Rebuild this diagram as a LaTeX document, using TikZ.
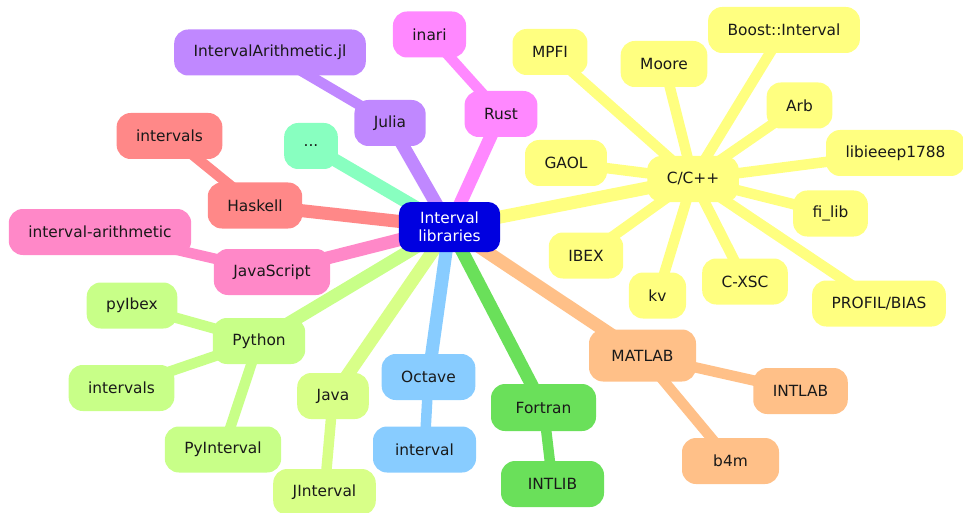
\documentclass[tikz,border=0pt]{standalone}
\usepackage{fontspec}
\setmainfont{DejaVu Sans}
\usepackage{tikz}
\definecolor{HubBlue}{HTML}{0000E0}
\definecolor{CppYellow}{HTML}{FFFF80}
\definecolor{RustPink}{HTML}{FF88FF}
\definecolor{JuliaPurple}{HTML}{C088FF}
\definecolor{MiscMint}{HTML}{88FFC0}
\definecolor{HaskellRed}{HTML}{FF8888}
\definecolor{JsPink}{HTML}{FF88C8}
\definecolor{PythonGreen}{HTML}{C8FF88}
\definecolor{JavaLime}{HTML}{D8FF88}
\definecolor{OctaveBlue}{HTML}{88CCFF}
\definecolor{FortranGreen}{HTML}{6AE05A}
\definecolor{MatlabOrange}{HTML}{FFC088}
\usetikzlibrary{backgrounds}

\begin{document}
\begin{tikzpicture}[
  x=1pt, y=-1pt,
  topic/.style={rectangle, rounded corners=14pt, fill=#1, minimum height=46pt, inner xsep=19.5pt, font=\fontsize{15.4}{18}\selectfont, text=black!90},
  hub/.style={rectangle, rounded corners=12pt, fill=HubBlue, text=white, minimum height=50pt, inner xsep=19.5pt, align=center, font=\fontsize{15.4}{18}\selectfont},
  branch/.style={line width=13pt},
  twig/.style={line width=10.5pt}
]
  \useasboundingbox (0,0) rectangle (963,513);

  % Centre
  \node[hub] (hub) at (449.5,227) {Interval\\libraries};

  % C/C++
  \node[topic=CppYellow] (cpp) at (693,179) {C/C++};
  \node[topic=CppYellow] (mpfi) at (550,52) {MPFI};
  \node[topic=CppYellow] (moore) at (664,64) {Moore};
  \node[topic=CppYellow] (boost) at (784,30) {Boost::Interval};
  \node[topic=CppYellow] (arb) at (799.5,105.5) {Arb};
  \node[topic=CppYellow] (ieee) at (895.5,153) {libieeep1788};
  \node[topic=CppYellow] (gaol) at (566,163) {GAOL};
  \node[topic=CppYellow] (filib) at (830.5,213.5) {fi\_lib};
  \node[topic=CppYellow] (ibex) at (586,255.5) {IBEX};
  \node[topic=CppYellow] (kv) at (657.5,295.5) {kv};
  \node[topic=CppYellow] (cxsc) at (745,281.5) {C-XSC};
  \node[topic=CppYellow] (profil) at (879,303.5) {PROFIL/BIAS};

  % Upper left
  \node[topic=RustPink] (rust) at (501,114) {Rust};
  \node[topic=RustPink] (inari) at (429.5,34.5) {inari};
  \node[topic=JuliaPurple] (julia) at (390,123) {Julia};
  \node[topic=JuliaPurple] (iajl) at (270,52.5) {IntervalArithmetic.jl};
  \node[topic=MiscMint] (dots) at (311,146) {...};
  \node[topic=HaskellRed] (haskell) at (255,205.5) {Haskell};
  \node[topic=HaskellRed] (hsint) at (169.5,136) {intervals};
  \node[topic=JsPink] (js) at (272,272) {JavaScript};
  \node[topic=JsPink] (jsint) at (100,232) {interval-arithmetic};

  % Lower half
  \node[topic=PythonGreen] (python) at (259,341) {Python};
  \node[topic=PythonGreen] (pyibex) at (132,305.5) {pyIbex};
  \node[topic=PythonGreen] (pyint) at (121.5,388) {intervals};
  \node[topic=PythonGreen] (pyinterval) at (223,449.5) {PyInterval};
  \node[topic=JavaLime] (java) at (333,396) {Java};
  \node[topic=JavaLime] (jinterval) at (324.5,492) {JInterval};
  \node[topic=OctaveBlue] (octave) at (428.5,377) {Octave};
  \node[topic=OctaveBlue, minimum width=103pt] (octint) at (424.5,449.5) {interval};
  \node[topic=FortranGreen, minimum width=105pt, minimum height=47pt] (fortran) at (543.5,407.5) {Fortran};
  \node[topic=FortranGreen, minimum width=103pt] (intlib) at (552.5,484) {INTLIB};
  \node[topic=MatlabOrange, minimum width=107pt, minimum height=52pt] (matlab) at (642.5,355.5) {MATLAB};
  \node[topic=MatlabOrange] (intlab) at (800.5,391) {INTLAB};
  \node[topic=MatlabOrange, minimum width=97pt] (b4m) at (730.5,461) {b4m};

  % Connectors
  \begin{scope}[on background layer]
    \draw[branch, CppYellow] (hub.center) -- (cpp.center);
    \foreach \leaf in {mpfi, moore, boost, arb, ieee, gaol, filib, ibex, kv, cxsc, profil}
      \draw[twig, CppYellow] (cpp.center) -- (\leaf.center);
    \draw[branch, RustPink] (hub.center) -- (rust.center);
    \draw[twig, RustPink] (rust.center) -- (inari.center);
    \draw[branch, JuliaPurple] (hub.center) -- (julia.center);
    \draw[twig, JuliaPurple] (julia.center) -- (iajl.center);
    \draw[branch, MiscMint] (hub.center) -- (dots.center);
    \draw[branch, HaskellRed] (hub.center) -- (haskell.center);
    \draw[twig, HaskellRed] (haskell.center) -- (hsint.center);
    \draw[branch, JsPink] (hub.center) -- (js.center);
    \draw[twig, JsPink] (js.center) -- (jsint.center);
    \draw[branch, PythonGreen] (hub.center) -- (python.center);
    \foreach \leaf in {pyibex, pyint, pyinterval}
      \draw[twig, PythonGreen] (python.center) -- (\leaf.center);
    \draw[branch, JavaLime] (hub.center) -- (java.center);
    \draw[twig, JavaLime] (java.center) -- (jinterval.center);
    \draw[branch, OctaveBlue] (hub.center) -- (octave.center);
    \draw[twig, OctaveBlue] (octave.center) -- (octint.center);
    \draw[branch, FortranGreen] (hub.center) -- (fortran.center);
    \draw[twig, FortranGreen] (fortran.center) -- (intlib.center);
    \draw[branch, MatlabOrange] (hub.center) -- (matlab.center);
    \draw[twig, MatlabOrange] (matlab.center) -- (intlab.center);
    \draw[twig, MatlabOrange] (matlab.center) -- (b4m.center);
  \end{scope}
\end{tikzpicture}
\end{document}
